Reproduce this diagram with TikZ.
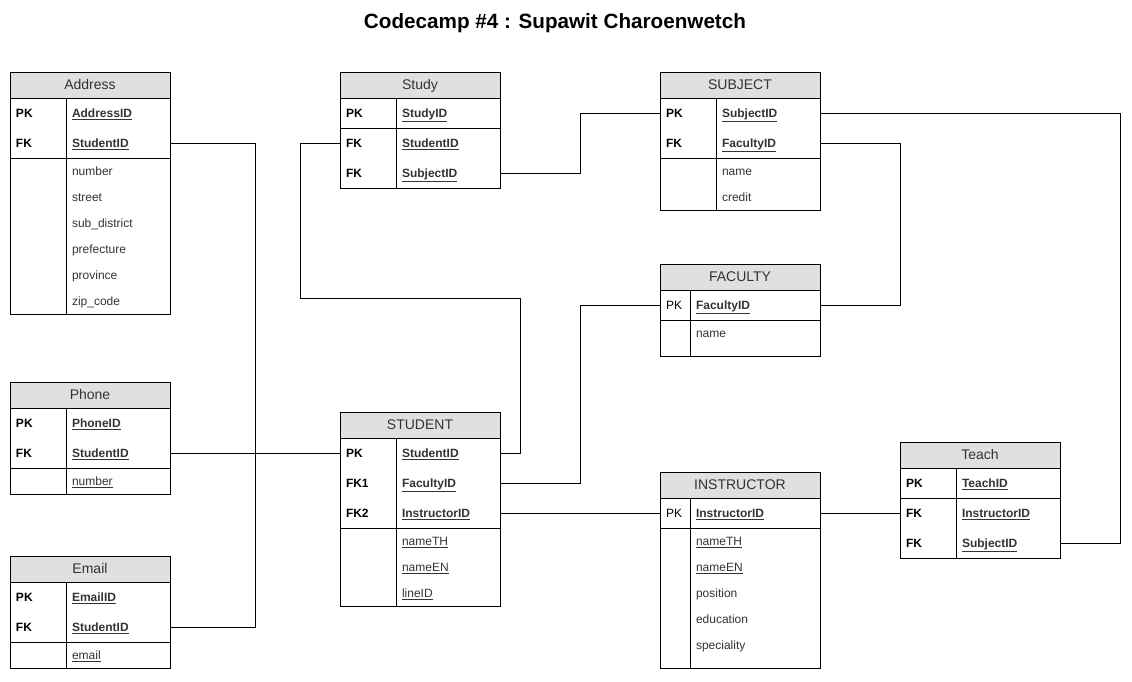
\documentclass[tikz,border=0pt]{standalone}
\usepackage{fontspec}
\setmainfont{Liberation Sans}
\usetikzlibrary{positioning}
\definecolor{headgray}{HTML}{E0E0E0}
\definecolor{textgray}{HTML}{333333}
\newcommand{\keyfield}[1]{\textbf{\underline{#1}}}
\tikzset{
    tblhead/.style = {
        draw,
        shape=rectangle,
        fill=headgray,
        minimum width=120pt,
        minimum height=19.5pt,
        inner sep=0pt,
        outer sep=0pt,
        text height=7.5pt,
        text depth=1pt,
        text=textgray,
        font=\fontsize{10.5}{12}\selectfont,
        line width=0.75pt
    },
    keycell/.style = {
        anchor=west,
        inner xsep=4.5pt,
        outer sep=0pt,
        text height=7.5pt,
        text depth=1pt,
        font=\fontsize{9}{11}\selectfont\bfseries
    },
    plainkey/.style = {
        keycell,
        font=\fontsize{9}{11}\selectfont
    },
    fieldcell/.style = {
        anchor=west,
        inner xsep=4.5pt,
        outer sep=0pt,
        text width=69pt,
        align=left,
        text height=7.5pt,
        text depth=1pt,
        text=textgray,
        font=\fontsize{9}{11}\selectfont
    },
    widefield/.style = {
        fieldcell,
        text width=88.5pt
    },
    tblbody/.style = {
        draw,
        line width=0.75pt
    },
    link/.style = {
        draw,
        line width=0.75pt
    },
}
\begin{document}
\begin{tikzpicture}[x=0.75pt, y=-0.75pt]
    \useasboundingbox (0,0) rectangle (1132,682);
    \node[font=\fontsize{15.5}{18}\selectfont\bfseries] (title) at (555,23) {Codecamp \#4 : Supawit Charoenwetch};

    % Address
    \node[tblhead] (addr) at (90,85) {Address};
    \draw[tblbody] (10,98) rectangle (170,314);
    \draw[tblbody] (66,98) -- (66,314);
    \draw[tblbody] (10,158) -- (170,158);
    \node[keycell] (addr-pk) at (10,113) {PK};
    \node[keycell] (addr-fk) at (10,143) {FK};
    \node[fieldcell] (addr-id) at (66,113) {\keyfield{AddressID}};
    \node[fieldcell] (addr-sid) at (66,143) {\keyfield{StudentID}};
    \node[fieldcell] (addr-num) at (66,171) {number};
    \node[fieldcell] (addr-street) at (66,197) {street};
    \node[fieldcell] (addr-sub) at (66,223) {sub\_district};
    \node[fieldcell] (addr-pref) at (66,249) {prefecture};
    \node[fieldcell] (addr-prov) at (66,275) {province};
    \node[fieldcell] (addr-zip) at (66,301) {zip\_code};

    % Phone
    \node[tblhead] (phone) at (90,395) {Phone};
    \draw[tblbody] (10,408) rectangle (170,494);
    \draw[tblbody] (66,408) -- (66,494);
    \draw[tblbody] (10,468) -- (170,468);
    \node[keycell] (phone-pk) at (10,423) {PK};
    \node[keycell] (phone-fk) at (10,453) {FK};
    \node[fieldcell] (phone-id) at (66,423) {\keyfield{PhoneID}};
    \node[fieldcell] (phone-sid) at (66,453) {\keyfield{StudentID}};
    \node[fieldcell] (phone-num) at (66,481) {\underline{number}};

    % Email
    \node[tblhead] (mail) at (90,569) {Email};
    \draw[tblbody] (10,582) rectangle (170,668);
    \draw[tblbody] (66,582) -- (66,668);
    \draw[tblbody] (10,642) -- (170,642);
    \node[keycell] (mail-pk) at (10,597) {PK};
    \node[keycell] (mail-fk) at (10,627) {FK};
    \node[fieldcell] (mail-id) at (66,597) {\keyfield{EmailID}};
    \node[fieldcell] (mail-sid) at (66,627) {\keyfield{StudentID}};
    \node[fieldcell] (mail-addr) at (66,655) {\underline{email}};

    % Study
    \node[tblhead] (study) at (420,85) {Study};
    \draw[tblbody] (340,98) rectangle (500,188);
    \draw[tblbody] (396,98) -- (396,188);
    \draw[tblbody] (340,128) -- (500,128);
    \node[keycell] (study-pk) at (340,113) {PK};
    \node[keycell] (study-fk1) at (340,143) {FK};
    \node[keycell] (study-fk2) at (340,173) {FK};
    \node[fieldcell] (study-id) at (396,113) {\keyfield{StudyID}};
    \node[fieldcell] (study-sid) at (396,143) {\keyfield{StudentID}};
    \node[fieldcell] (study-subj) at (396,173) {\keyfield{SubjectID}};

    % SUBJECT
    \node[tblhead] (subj) at (740,85) {SUBJECT};
    \draw[tblbody] (660,98) rectangle (820,210);
    \draw[tblbody] (716,98) -- (716,210);
    \draw[tblbody] (660,158) -- (820,158);
    \node[keycell] (subj-pk) at (660,113) {PK};
    \node[keycell] (subj-fk) at (660,143) {FK};
    \node[fieldcell] (subj-id) at (716,113) {\keyfield{SubjectID}};
    \node[fieldcell] (subj-fid) at (716,143) {\keyfield{FacultyID}};
    \node[fieldcell] (subj-name) at (716,171) {name};
    \node[fieldcell] (subj-credit) at (716,197) {credit};

    % FACULTY
    \node[tblhead] (fac) at (740,277) {FACULTY};
    \draw[tblbody] (660,290) rectangle (820,356);
    \draw[tblbody] (690,290) -- (690,356);
    \draw[tblbody] (660,320) -- (820,320);
    \node[plainkey] (fac-pk) at (660,305) {PK};
    \node[widefield] (fac-id) at (690,305) {\keyfield{FacultyID}};
    \node[widefield] (fac-name) at (690,333) {name};

    % STUDENT
    \node[tblhead] (stu) at (420,425) {STUDENT};
    \draw[tblbody] (340,438) rectangle (500,606);
    \draw[tblbody] (396,438) -- (396,606);
    \draw[tblbody] (340,528) -- (500,528);
    \node[keycell] (stu-pk) at (340,453) {PK};
    \node[keycell] (stu-fk1) at (340,483) {FK1};
    \node[keycell] (stu-fk2) at (340,513) {FK2};
    \node[fieldcell] (stu-sid) at (396,453) {\keyfield{StudentID}};
    \node[fieldcell] (stu-fid) at (396,483) {\keyfield{FacultyID}};
    \node[fieldcell] (stu-iid) at (396,513) {\keyfield{InstructorID}};
    \node[fieldcell] (stu-th) at (396,541) {\underline{nameTH}};
    \node[fieldcell] (stu-en) at (396,567) {\underline{nameEN}};
    \node[fieldcell] (stu-line) at (396,593) {\underline{lineID}};

    % INSTRUCTOR
    \node[tblhead] (ins) at (740,485) {INSTRUCTOR};
    \draw[tblbody] (660,498) rectangle (820,668);
    \draw[tblbody] (690,498) -- (690,668);
    \draw[tblbody] (660,528) -- (820,528);
    \node[plainkey] (ins-pk) at (660,513) {PK};
    \node[widefield] (ins-id) at (690,513) {\keyfield{InstructorID}};
    \node[widefield] (ins-th) at (690,541) {\underline{nameTH}};
    \node[widefield] (ins-en) at (690,567) {\underline{nameEN}};
    \node[widefield] (ins-pos) at (690,593) {position};
    \node[widefield] (ins-edu) at (690,619) {education};
    \node[widefield] (ins-spec) at (690,645) {speciality};

    % Teach
    \node[tblhead] (teach) at (980,455) {Teach};
    \draw[tblbody] (900,468) rectangle (1060,558);
    \draw[tblbody] (956,468) -- (956,558);
    \draw[tblbody] (900,498) -- (1060,498);
    \node[keycell] (teach-pk) at (900,483) {PK};
    \node[keycell] (teach-fk1) at (900,513) {FK};
    \node[keycell] (teach-fk2) at (900,543) {FK};
    \node[fieldcell] (teach-id) at (956,483) {\keyfield{TeachID}};
    \node[fieldcell] (teach-iid) at (956,513) {\keyfield{InstructorID}};
    \node[fieldcell] (teach-sid) at (956,543) {\keyfield{SubjectID}};

    % relations
    \coordinate (stujoin) at (255,453);
    \coordinate (studybend1) at (300,298);
    \coordinate (studybend2) at (520,298);
    \path[link] (addr-sid.east) -| (stujoin);
    \path[link] (mail-sid.east) -| (stujoin);
    \path[link] (phone-sid.east) -- (stu-pk.west);
    \path[link] (study-fk1.west) -| (studybend1) -- (studybend2) |- (stu-sid.east);
    \path[link] (study-subj.east) -- ++(80,0) |- (subj-pk.west);
    \path[link] (subj-fid.east) -- ++(80,0) |- (fac-id.east);
    \path[link] (stu-fid.east) -- ++(80,0) |- (fac-pk.west);
    \path[link] (stu-iid.east) -- (ins-pk.west);
    \path[link] (ins-id.east) -- (teach-fk1.west);
    \path[link] (subj-id.east) -- ++(300,0) |- (teach-sid.east);
\end{tikzpicture}
\end{document}
